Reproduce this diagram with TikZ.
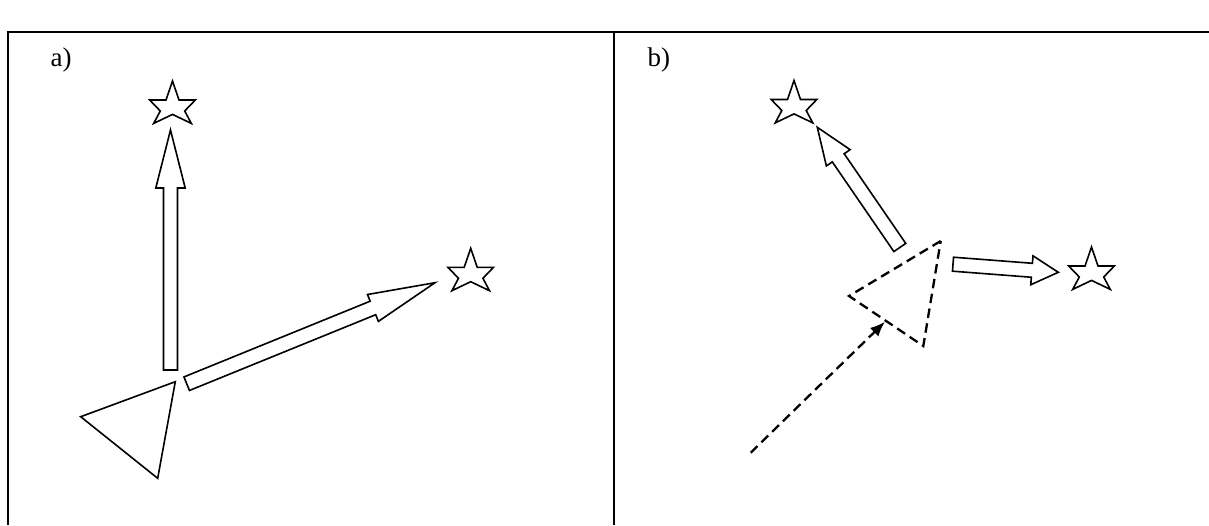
\documentclass[tikz,border=0pt]{standalone}
\usepackage{fontspec}
\setmainfont{Liberation Serif}
\usetikzlibrary{calc,arrows.meta}
\tikzset{
  outline/.style={draw=black, line width=1.6pt, line join=miter, fill=white},
  dashedline/.style={draw=black, line width=2.3pt, dash pattern=on 9.5pt off 5.5pt},
  frame/.style={draw=black, line width=2pt},
  panellabel/.style={anchor=base west, inner sep=0pt, font=\fontsize{27}{30}\selectfont},
}
\newcommand{\blkarrow}[5]{%
  \coordinate (hb) at ($(#2)!#5!(#1)$);
  \draw[outline] ($(#1)!#3!90:(#2)$) -- ($(hb)!#3!90:(#2)$) -- ($(hb)!#4!90:(#2)$) -- (#2)
    -- ($(hb)!#4!-90:(#2)$) -- ($(hb)!#3!-90:(#2)$) -- ($(#1)!#3!-90:(#2)$) -- cycle;}
\newcommand{\starshape}[1]{%
  \draw[outline, shift={(#1)}] (0,0) -- (6.5,19) -- (22.8,19) -- (12.2,30) -- (18.8,42.4)
    -- (0,33.4) -- (-18.8,42.4) -- (-12.2,30) -- (-22.8,19) -- (-6.5,19) -- cycle;}
\begin{document}
\begin{tikzpicture}[x=1pt,y=-1pt]
\useasboundingbox (0,0) rectangle (1209,525);
% frame
\coordinate (tl) at (8,32);
\coordinate (tr) at (1209,32);
\coordinate (bl) at (8,525);
\coordinate (tm) at (614,32);
\coordinate (bm) at (614,525);
\draw[frame] (bl) -- (tl) -- (tr);
\draw[frame] (tm) -- (bm);
% labels
\node[panellabel] (la) at (50.5,66) {a)};
\node[panellabel] (lb) at (647.5,66) {b)};
% panel a
\coordinate (sa1) at (172.5,81);
\coordinate (sa2) at (470.7,248.3);
\starshape{sa1}
\starshape{sa2}
\coordinate (a1t) at (170.5,370);
\coordinate (a1p) at (170.5,130);
\blkarrow{a1t}{a1p}{7pt}{14.7pt}{58pt}
\coordinate (a2t) at (186.7,383.7);
\coordinate (a2p) at (435,282.7);
\blkarrow{a2t}{a2p}{7.3pt}{14.5pt}{67pt}
\coordinate (ta1) at (175.3,381.7);
\coordinate (ta2) at (80.7,416.7);
\coordinate (ta3) at (157.7,478.3);
\draw[outline, fill=none] (ta1) -- (ta2) -- (ta3) -- cycle;
% panel b
\coordinate (sb1) at (794,80.5);
\coordinate (sb2) at (1091.5,247);
\starshape{sb1}
\starshape{sb2}
\coordinate (b1t) at (899.8,247.5);
\coordinate (b1p) at (817.3,127.3);
\blkarrow{b1t}{b1p}{7.2pt}{14.4pt}{37pt}
\coordinate (b2t) at (953,264.2);
\coordinate (b2p) at (1058.3,272.3);
\blkarrow{b2t}{b2p}{7pt}{14.5pt}{26.5pt}
\coordinate (tb1) at (940.7,241);
\coordinate (tb2) at (849,296);
\coordinate (tb3) at (923.3,346);
\draw[dashedline] (tb1) -- (tb2) -- (tb3) -- cycle;
\coordinate (ds) at (750.7,452.7);
\coordinate (de) at (885,321.7);
\draw[dashedline, -{Latex[length=15pt,width=12pt]}] (ds) -- (de);
\end{tikzpicture}
\end{document}
